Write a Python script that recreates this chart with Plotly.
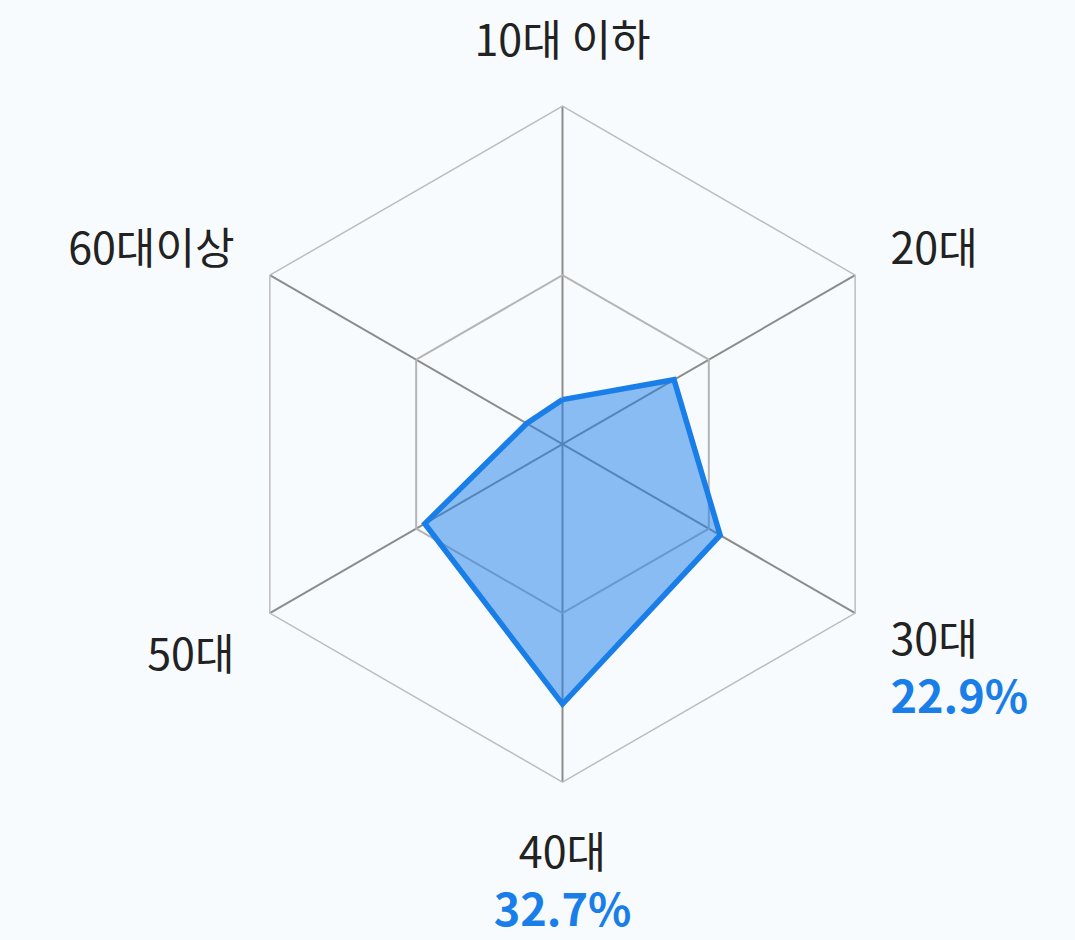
import plotly.graph_objects as go

categories = ["10대 이하", "20대", "30대", "40대", "50대", "60대이상"]
values = [5.6, 16.2, 22.9, 32.7, 20.0, 5.2]
highlight = {"30대": "22.9%", "40대": "32.7%"}

BLUE = "#1a7ee8"
rmax = max(values) * 1.3

ticktext = []
for c in categories:
    lab = f"<span style='font-size:43px'>{c}</span>"
    if c in highlight:
        lab += f"<br><span style='color:{BLUE};font-size:45px'><b>{highlight[c]}</b></span>"
    ticktext.append(lab)

r_closed = values + [values[0]]
theta_closed = categories + [categories[0]]

fig = go.Figure()
fig.add_trace(go.Scatterpolar(
    r=r_closed, theta=theta_closed, mode="lines", fill="toself",
    fillcolor="rgba(26,126,232,0.5)",
    line=dict(color=BLUE, width=5.5),
    hoverinfo="skip",
))

fig.update_layout(
    width=1075, height=940,
    margin=dict(l=0, r=0, t=0, b=0),
    paper_bgcolor="#f7fbfd",
    plot_bgcolor="#f7fbfd",
    showlegend=False,
    font=dict(family="Noto Sans CJK KR", size=43, color="#222222"),
    polar=dict(
        domain=dict(x=[0.2088, 0.8377], y=[0.168, 0.887]),
        bgcolor="#f7fbfd",
        gridshape="linear",
        radialaxis=dict(range=[0, rmax], tickvals=[rmax / 2, rmax], showticklabels=False,
                        showline=False, gridcolor="#b5b5b5", gridwidth=1.5, ticks=""),
        angularaxis=dict(direction="clockwise", rotation=90,
                         tickvals=categories, ticktext=ticktext,
                         tickfont=dict(size=45),
                         showline=True, linecolor="#bdbdbd", linewidth=1.5,
                         gridcolor="#8c8c8c", gridwidth=1.5,
                         ticks="outside", ticklen=31, tickcolor="rgba(0,0,0,0)"),
    ),
)

fig.write_html("out.html", config={"displayModeBar": False},
               post_script="document.body.style.margin='0';document.body.style.overflow='hidden';")
